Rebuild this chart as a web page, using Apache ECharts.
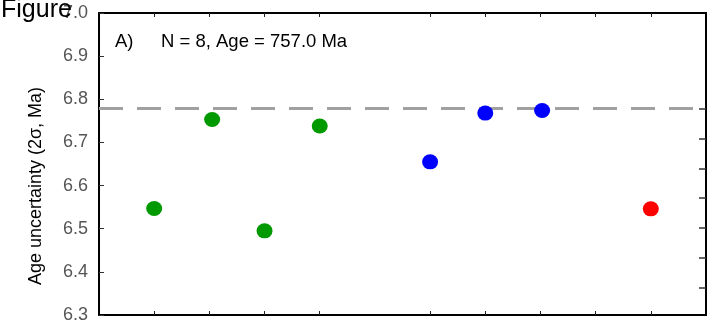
<!DOCTYPE html>
<html>
<head>
<meta charset="utf-8">
<script src="https://cdn.jsdelivr.net/npm/echarts@6/dist/echarts.min.js"></script>
<style>
  html, body { margin: 0; padding: 0; background: #fff; }
  #chart { width: 712px; height: 330px; }
</style>
</head>
<body>
<div id="chart"></div>
<script>
// Age uncertainty (2σ) per analysis, grouped by colour
const greenX = [1, 2.05, 3, 4];
const greenY = [6.547, 6.753, 6.495, 6.738];
const blueX = [6, 7, 8.03];
const blueY = [6.655, 6.768, 6.774];
const redX = [10];
const redY = [6.546];

// Reference level (dashed line)
const refLevel = 6.778;

// Tick positions
const xTicks = [1, 2, 3, 4, 6, 7, 8, 9, 10];
const yTicks = [6.3, 6.4, 6.5, 6.6, 6.7, 6.8, 6.9, 7.0];
const rightTicks = [6.364, 6.433, 6.502, 6.571, 6.640, 6.709, 6.778];

const panelTag = 'A)';
const panelNote = 'N = 8, Age = 757.0 Ma';
const yName = 'Age uncertainty (2σ, Ma)';

const FONT = '"Liberation Sans", Arial, sans-serif';

function pts(xs, ys) { return xs.map((x, i) => [x, ys[i]]); }

const chart = echarts.init(document.getElementById('chart'), null, { renderer: 'canvas' });

const xBase = {
  type: 'value', min: 0, max: 11,
  axisLine: { show: true, onZero: false, lineStyle: { color: '#000', width: 2 } },
  axisTick: { show: true, inside: true, length: 4, customValues: xTicks, lineStyle: { color: '#222', width: 1 } },
  axisLabel: { show: false },
  splitLine: { show: false }
};

const dot = { symbol: 'circle', symbolSize: [16, 15], z: 5 };

chart.setOption({
  animation: false,
  grid: { left: 99, right: 6, top: 13, bottom: 15 },
  xAxis: [
    Object.assign({}, xBase, { position: 'bottom' }),
    Object.assign({}, xBase, { position: 'top' })
  ],
  yAxis: [
    {
      type: 'value', position: 'left', min: 6.3, max: 7.0, interval: 0.1,
      axisLine: { show: true, onZero: false, lineStyle: { color: '#000', width: 2 } },
      axisTick: { show: true, inside: true, length: 5, customValues: yTicks, lineStyle: { color: '#333', width: 1 } },
      axisLabel: {
        show: true, customValues: yTicks, margin: 11, color: '#555', fontSize: 18, fontFamily: FONT,
        formatter: v => v.toFixed(1)
      },
      splitLine: { show: false }
    },
    {
      type: 'value', position: 'right', min: 6.3, max: 7.0,
      axisLine: { show: true, onZero: false, lineStyle: { color: '#000', width: 2 } },
      axisTick: { show: true, inside: true, length: 7, customValues: rightTicks, lineStyle: { color: '#333', width: 1.5 } },
      axisLabel: { show: false },
      splitLine: { show: false }
    }
  ],
  graphic: [
    { type: 'text', left: 1, top: -2, z: 10,
      style: { text: 'Figure', fontSize: 25, fontFamily: FONT, fill: '#000' } },
    { type: 'text', left: 115, top: 32,
      style: { text: panelTag, fontSize: 18.5, fontFamily: FONT, fill: '#000' } },
    { type: 'text', left: 161, top: 32,
      style: { text: panelNote, fontSize: 18.5, fontFamily: FONT, fill: '#000' } },
    { type: 'text', x: 36, y: 186, rotation: Math.PI / 2,
      style: { text: yName, fontSize: 18, fontFamily: FONT, fill: '#000', align: 'center', verticalAlign: 'middle' } }
  ],
  series: [
    Object.assign({
      type: 'scatter', data: pts(greenX, greenY),
      itemStyle: { color: '#009900', opacity: 1 },
      markLine: {
        silent: true, symbol: 'none', label: { show: false },
        lineStyle: { color: '#a0a0a0', width: 3, type: [24, 14] },
        data: [{ yAxis: refLevel }]
      }
    }, dot),
    Object.assign({
      type: 'scatter', data: pts(blueX, blueY),
      itemStyle: { color: '#0000ff', opacity: 1 }
    }, dot),
    Object.assign({
      type: 'scatter', data: pts(redX, redY),
      itemStyle: { color: '#ff0000', opacity: 1 }
    }, dot)
  ]
});
</script>
</body>
</html>
